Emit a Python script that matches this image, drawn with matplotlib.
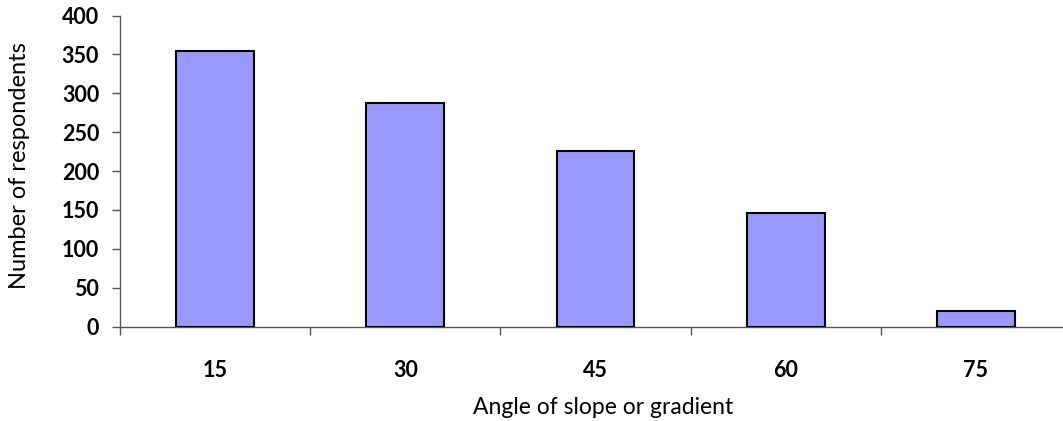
import matplotlib.pyplot as plt
import numpy as np

angles = ['15', '30', '45', '60', '75']
respondents = [354, 287, 226, 146, 20]

plt.rcParams['font.family'] = ['Lato', 'DejaVu Sans']

fig = plt.figure(figsize=(10.63, 4.21), dpi=100)
# right edge runs a little past the picture, as in the original crop
ax = fig.add_axes([120 / 1063, 94.3 / 421, 951 / 1063, 311.2 / 421])

x = np.arange(len(angles))
ax.bar(x, respondents, width=0.41, color='#9999FF', edgecolor='black', linewidth=1.5, zorder=3)

ax.set_xlim(-0.5, len(angles) - 0.5)
ax.set_ylim(0, 400)
ax.set_yticks(np.arange(0, 401, 50))

# category ticks sit between the bars, labels at the bar centres
ax.set_xticks(np.arange(-0.5, len(angles), 1.0))
ax.set_xticklabels([])
ax.set_xticks(x, minor=True)
ax.set_xticklabels(angles, minor=True)
ax.tick_params(axis='x', which='major', direction='out', length=6, width=1, color='#555555')
ax.tick_params(axis='x', which='minor', length=0, pad=24, labelsize=15.5)
ax.tick_params(axis='y', direction='out', length=6, width=1, color='#555555', pad=9, labelsize=15.5)
for lab in ax.get_xticklabels(minor=True) + ax.get_yticklabels():
    lab.set_fontweight('bold')

for s in ['top', 'right']:
    ax.spines[s].set_visible(False)
for s in ['left', 'bottom']:
    ax.spines[s].set_color('#555555')
    ax.spines[s].set_linewidth(1)

fig.text(20 / 1063, 1 - 166 / 421, 'Number of respondents', rotation=90, ha='center', va='center', fontsize=17)
fig.text(603 / 1063, 1 - 407 / 421, 'Angle of slope or gradient', ha='center', va='center', fontsize=16.5)

plt.savefig('out.png', dpi=100)
